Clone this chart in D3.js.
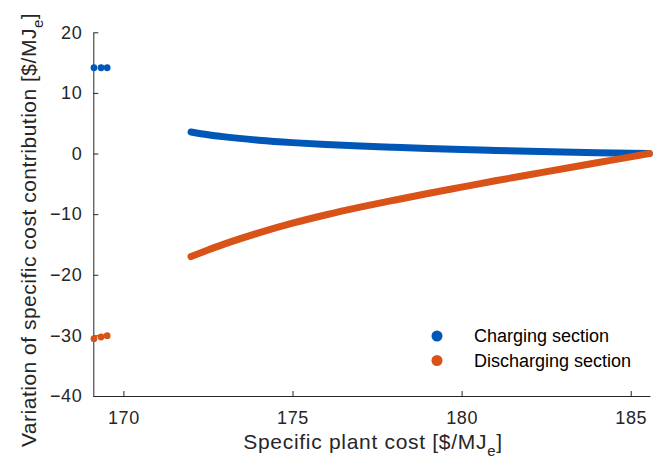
<!DOCTYPE html>
<html>
<head>
<meta charset="utf-8">
<script src="https://cdn.jsdelivr.net/npm/d3@7"></script>
<style>
  body { margin: 0; background: #fff; }
  svg text { font-family: "Liberation Sans", Arial, sans-serif; fill: #262626; }
</style>
</head>
<body>
<svg id="chart" width="659" height="462"></svg>
<script>
// isolated points on the left
const scatterCost = [169.13, 169.34, 169.52];
const scatterCharging = [14.15, 14.15, 14.15];
const scatterDischarging = [-30.55, -30.27, -30.05];

// dense curves, read at these plant costs
const curveCost = [172.0, 172.5, 173, 174, 175, 176, 177, 178, 179, 180, 181, 182, 183, 184, 185, 185.55];
const curveCharging = [3.55, 3.1, 2.75, 2.2, 1.8, 1.5, 1.24, 1.02, 0.83, 0.66, 0.5, 0.36, 0.24, 0.13, 0.04, 0.0];
const curveDischarging = [-17.0, -15.9, -14.9, -13.1, -11.5, -10.1, -8.85, -7.7, -6.6, -5.55, -4.5, -3.5, -2.5, -1.52, -0.55, 0.0];

const xTicks = [170, 175, 180, 185];
const yTicks = [-40, -30, -20, -10, 0, 10, 20];

const series = [
  { name: "Charging section", color: "#0057b7", pts: scatterCharging, curve: curveCharging },
  { name: "Discharging section", color: "#d95319", pts: scatterDischarging, curve: curveDischarging }
];

const svg = d3.select("#chart");
const axisColor = "#262626";

const x = d3.scaleLinear().domain([169.11, 185.57]).range([93.3, 650]);
const y = d3.scaleLinear().domain([-40, 20]).range([396, 32.3]);

// axes (ticks pointing inward, no box)
const gx = svg.append("g")
  .attr("transform", `translate(0,${y(-40)})`)
  .call(d3.axisBottom(x).tickValues(xTicks).tickSizeInner(-5).tickSizeOuter(0));
const gy = svg.append("g")
  .attr("transform", `translate(${x.range()[0]},0)`)
  .call(d3.axisLeft(y).tickValues(yTicks).tickSizeInner(-5).tickSizeOuter(0).tickPadding(11));

[gx, gy].forEach(g => {
  g.select(".domain").attr("stroke", axisColor).attr("stroke-width", 1);
  g.selectAll(".tick line").attr("stroke", axisColor);
  g.selectAll(".tick text").attr("font-size", 18).attr("fill", axisColor)
    .style("letter-spacing", "0.6px")
    .style("font-family", '"Liberation Sans", Arial, sans-serif');
});
gx.selectAll(".tick text").attr("y", 28).attr("dy", 0);

// curves drawn as thick lines of dense markers
const line = d3.line()
  .x((d, i) => x(curveCost[i]))
  .y(d => y(d))
  .curve(d3.curveMonotoneX);

series.forEach(s => {
  svg.append("path")
    .datum(s.curve)
    .attr("d", line)
    .attr("fill", "none")
    .attr("stroke", s.color)
    .attr("stroke-width", 7)
    .attr("stroke-linecap", "round");

  svg.append("g").selectAll("circle")
    .data(s.pts)
    .join("circle")
    .attr("cx", (d, i) => x(scatterCost[i]))
    .attr("cy", d => y(d))
    .attr("r", 3.4)
    .attr("fill", s.color);
});

// axis labels
const xl = svg.append("text")
  .attr("x", 373)
  .attr("y", 449)
  .attr("text-anchor", "middle")
  .attr("font-size", 21)
  .style("letter-spacing", "0.7px");
xl.append("tspan").text("Specific plant cost [$/MJ");
xl.append("tspan").attr("font-size", 15).attr("dy", 7).text("e");
xl.append("tspan").attr("dy", -7).text("]");

const yl = svg.append("text")
  .attr("transform", "translate(36,230) rotate(-90)")
  .attr("text-anchor", "middle")
  .attr("font-size", 21)
  .style("letter-spacing", "0.5px");
yl.append("tspan").text("Variation of specific cost contribution [$/MJ");
yl.append("tspan").attr("font-size", 15).attr("dy", 7).text("e");
yl.append("tspan").attr("dy", -7).text("]");

// legend
const legend = svg.append("g");
series.forEach((s, i) => {
  const ly = 336 + i * 24.5;
  legend.append("circle")
    .attr("cx", 437)
    .attr("cy", ly)
    .attr("r", 5.5)
    .attr("fill", s.color);
  legend.append("text")
    .attr("x", 474)
    .attr("y", ly)
    .attr("dy", "0.35em")
    .attr("font-size", 18)
    .style("fill", "#000")
    .text(s.name);
});
</script>
</body>
</html>
